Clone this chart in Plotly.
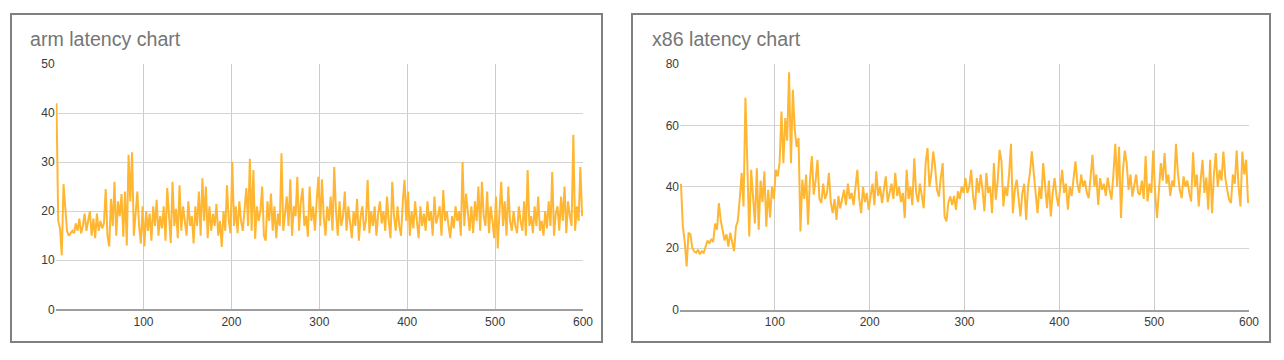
import plotly.graph_objects as go

W, H = 1284, 360

# ---- data (sampled every 2 x-units, x = 1, 3, 5, ..., 599) ----
arm_latency = [
    42, 18, 16.5, 11, 25.5, 20, 16, 15, 15.5, 16,
    15.5, 17.5, 16, 18.5, 15.5, 17, 19.5, 16, 18, 20,
    15, 18.5, 14.5, 19.5, 16, 18, 16.5, 17.5, 24.5, 15,
    12.8, 22.5, 17, 26, 15, 22, 19, 23.5, 14.8, 24,
    13, 31.5, 22, 32, 15, 19, 24, 17, 13.4, 21,
    12.8, 20, 16, 19.5, 14, 21, 17, 22.3, 15, 19,
    16.5, 21, 14, 24.7, 18, 13.5, 26, 17, 20.5, 14.5,
    25.3, 16, 21, 18, 15, 22, 17, 19, 13.4, 21,
    17, 24, 15, 26.7, 18, 25, 14.5, 21, 16, 19.5,
    17, 21.5, 15, 18, 12.7, 20, 16, 25.3, 18, 15.5,
    30, 17, 21, 15.5, 22, 18, 16, 20.5, 24.7, 17,
    30.7, 16, 28.4, 14.4, 21, 18, 20, 25, 15, 14,
    22, 18, 23.6, 16, 21, 14.5, 19.5, 17, 31.8, 16,
    20, 23, 17, 26.5, 15, 21, 19, 27, 16, 22,
    24.7, 17, 19, 14.8, 25, 18, 21, 16, 22, 27,
    17, 26.5, 19, 15, 21, 18, 23, 16, 29, 20,
    15, 22, 17, 19, 24, 16, 21, 18, 14.5, 20,
    17, 22.5, 14, 19, 21, 16, 18, 26.4, 15.5, 20,
    17, 21, 15, 19.5, 22, 17.5, 20, 16, 23, 18,
    14.5, 26, 19, 16, 21, 17, 15, 22, 26.4, 18,
    24, 15, 20, 16.5, 22, 18, 14.5, 21, 17, 19.5,
    16, 22, 18, 20, 15, 23, 17.5, 19, 21, 15,
    24.3, 18, 20, 17, 14.5, 19, 16.5, 21, 18, 20,
    15, 30, 17, 23.6, 19, 16, 21, 15.5, 22, 18,
    25, 16, 26, 19, 17, 24, 15.5, 21, 18, 14.5,
    23, 12.4, 20, 26, 17, 22, 15, 25, 18, 16,
    20, 17, 15.5, 21, 18, 16, 22, 15, 28.4, 17,
    19, 15.5, 21, 17, 23, 16, 18, 15, 20, 16.5,
    22, 17, 28, 15, 19.5, 21, 16, 23, 18, 25,
    15.5, 22, 19, 17, 35.6, 16, 21, 18, 29, 19,
]

x86_latency = [
    41, 27, 22, 14, 25, 24.5, 20, 19, 18.5, 19.5,
    18, 19, 18.5, 21, 22.5, 21.5, 23, 22, 28, 26,
    34.7, 29, 26, 22.5, 24.5, 20.5, 25, 22, 19, 27,
    29, 36, 44.5, 33.6, 69, 47.7, 23.8, 45.5, 35, 28,
    46, 26, 42, 35, 45, 27, 39, 30, 40, 36,
    45.5, 43.4, 47.7, 64.5, 47.7, 62.4, 55, 77.3, 47.7, 71.6,
    58.6, 53, 55.9, 25.4, 42.3, 36, 44, 27.6, 42, 50,
    37.4, 42, 48.8, 36, 34.7, 41, 36, 38, 44.5, 35,
    31.4, 36, 29.2, 37, 33, 36, 39, 34, 41, 36,
    38, 34, 40, 45.5, 36, 31.4, 40, 35, 38, 32.5,
    37, 41, 34, 45, 37, 40, 34.7, 39, 43.4, 35,
    38, 41, 36, 44.5, 37, 40, 35, 38, 29.8, 45.5,
    36, 40, 34, 49.3, 38, 35, 41, 37, 33, 47.7,
    52.6, 40, 44, 51.5, 46.6, 39, 36.8, 43, 47.7, 30.3,
    28.7, 35, 36.8, 34, 37, 32.5, 38.5, 36, 40, 38,
    42.8, 38, 40, 45.5, 37, 32.5, 42.8, 38, 44, 39,
    32, 44.5, 38, 40, 31.4, 47.7, 35.8, 42, 52, 48.3,
    33.6, 40, 37, 44, 54, 31.4, 39, 42.3, 36, 30.3,
    38, 41, 29.2, 40, 44.5, 51.5, 44.5, 37, 31.4, 40,
    36, 47.7, 40, 33, 42, 30.3, 38, 42.8, 37, 33.6,
    40, 45.5, 38, 41, 32.5, 40, 37, 43, 48.3, 41,
    38, 44, 40, 42, 38, 36.3, 43, 50.4, 40, 44,
    34.1, 42.8, 39, 41, 37, 43, 39, 35.8, 44, 54,
    40, 53, 29.8, 45, 51.8, 47.7, 39, 44, 36.8, 41,
    44, 38, 37.4, 42, 36, 50, 35.2, 41, 38, 51.8,
    38, 29.8, 40, 47.7, 42, 51, 41, 44, 37, 42,
    40, 54, 44.5, 39, 36.3, 43.4, 40, 42, 38, 35.2,
    51.2, 40, 44, 33.6, 42, 48.8, 38, 43, 32.5, 48.8,
    31.4, 44, 51, 40, 45.5, 42, 51.5, 43, 39, 35.8,
    34.7, 44, 41, 51.8, 40, 33.6, 51.5, 44, 48.8, 34.7,
]

x_ticks = [100, 200, 300, 400, 500, 600]
arm_y_ticks = [0, 10, 20, 30, 40, 50]
x86_y_ticks = [0, 20, 40, 60, 80]
titles = ["arm latency chart", "x86 latency chart"]

arm_x = list(range(1, 2 * len(arm_latency), 2))
x86_x = list(range(1, 2 * len(x86_latency), 2))

LINE = "#ffb733"
FONT = "Liberation Sans, Arial, sans-serif"


def px_x(p):
    return p / W


def px_y(p):
    return 1 - p / H


fig = go.Figure()
fig.add_trace(go.Scatter(x=arm_x, y=arm_latency, mode="lines",
                         line=dict(color=LINE, width=2), xaxis="x", yaxis="y",
                         showlegend=False, hoverinfo="x+y"))
fig.add_trace(go.Scatter(x=x86_x, y=x86_latency, mode="lines",
                         line=dict(color=LINE, width=2), xaxis="x2", yaxis="y2",
                         showlegend=False, hoverinfo="x+y"))

tickfont = dict(family=FONT, size=12, color="#3a3a3a")
common_x = dict(range=[0, 600], tickvals=x_ticks, showgrid=True, gridcolor="#cccccc",
                gridwidth=1, zeroline=False, showline=True, linecolor="#9e9e9e",
                linewidth=2, ticks="", tickfont=tickfont, fixedrange=True,
                automargin=False)
common_y = dict(showgrid=True, gridcolor="#d4d4d4", gridwidth=1, zeroline=False,
                showline=False, ticks="", tickfont=tickfont, fixedrange=True,
                automargin=False)

fig.update_layout(
    width=W, height=H,
    margin=dict(l=0, r=0, t=0, b=0, pad=0, autoexpand=False),
    showlegend=False,
    paper_bgcolor="white", plot_bgcolor="white",
    xaxis=dict(domain=[px_x(55.6), px_x(583)], anchor="y", **common_x),
    yaxis=dict(domain=[px_y(309.3), px_y(64)], anchor="x", range=[0, 50],
               tickvals=arm_y_ticks, **common_y),
    xaxis2=dict(domain=[px_x(680), px_x(1249)], anchor="y2", **common_x),
    yaxis2=dict(domain=[px_y(309.5), px_y(64)], anchor="x2", range=[0, 80],
                tickvals=x86_y_ticks, **common_y),
)

# panel borders
for x0, x1 in [(11, 602), (632, 1270)]:
    fig.add_shape(type="rect", xref="paper", yref="paper",
                  x0=px_x(x0), x1=px_x(x1), y0=px_y(342), y1=px_y(14),
                  line=dict(color="#808080", width=2), fillcolor="rgba(0,0,0,0)",
                  layer="above")

# titles
for tx, text in [(27.5, titles[0]), (649.5, titles[1])]:
    fig.add_annotation(x=px_x(tx), y=px_y(38.7), xref="paper", yref="paper",
                       xanchor="left", yanchor="middle", showarrow=False,
                       text=text, font=dict(family=FONT, size=19.6, color="#757575"))

post = ("var gd=document.getElementById('{plot_id}');"
        "gd.style.position='fixed';gd.style.left='0px';gd.style.top='0px';"
        "document.documentElement.style.margin='0';"
        "document.documentElement.style.padding='0';"
        "document.documentElement.style.overflow='hidden';"
        "document.body.style.margin='0';"
        "document.body.style.padding='0';"
        "document.body.style.overflow='hidden';")

fig.write_html("out.html", post_script=post,
               config={"displayModeBar": False, "responsive": False})
